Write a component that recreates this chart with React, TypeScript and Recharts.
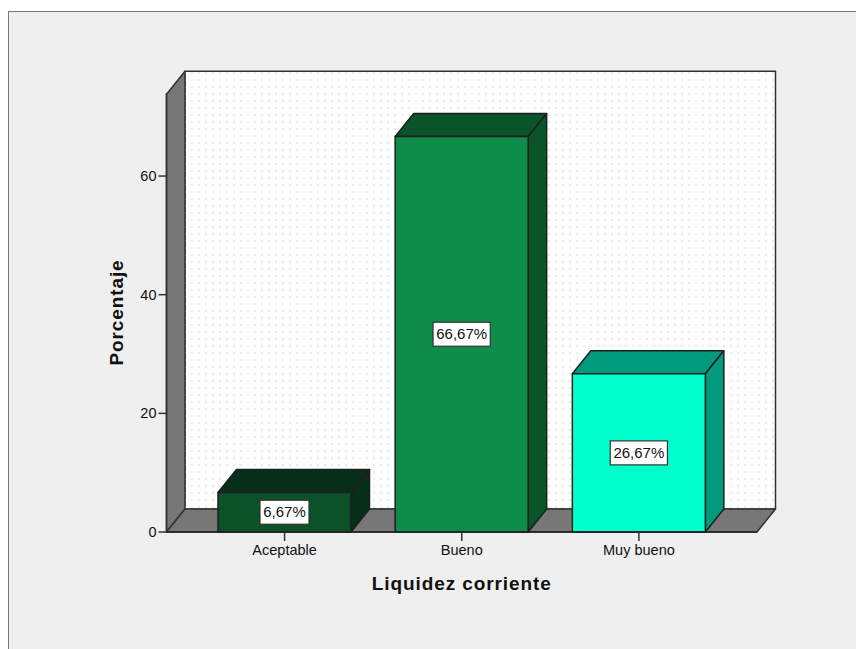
import { BarChart, Bar, XAxis, YAxis, ReferenceArea, LabelList, Label } from "recharts";

const categories = ["Aceptable", "Bueno", "Muy bueno"];
const percentages = [6.67, 66.67, 26.67];
const yTicks = [0, 20, 40, 60];
const frontColors = ["#0b5229", "#0f8c4a", "#00ffcc"];
const sideColors = ["#082f1a", "#0a5429", "#009b7c"];

const data = categories.map((name, i) => ({ name, value: percentages[i] }));

const DEPTH_X = 18.5;
const DEPTH_Y = 23;
const AXIS_PAD = 29.5;
const EDGE = "#1f1f1f";
const FONT = "Liberation Sans, Arial, sans-serif";

function formatPct(v: number) {
  return v.toFixed(2).replace(".", ",") + "%";
}

// back wall, left wall and floor of the SPSS style 3D box
// the reference area only spans the band range, so widen it by the axis padding
const Walls = ({ x: bandX, y, width: bandWidth, height }: any) => {
  const x = bandX - AXIS_PAD;
  const width = bandWidth + AXIS_PAD * 2;
  const bottom = y + height;
  const right = x + width;
  return (
    <g stroke="#333" strokeWidth={1.5} strokeLinejoin="round">
      <defs>
        <pattern id="dots" width="7" height="7" patternUnits="userSpaceOnUse">
          <rect x="2" y="2" width="2" height="2" fill="#ececec" stroke="none" />
        </pattern>
      </defs>
      <rect x={x + DEPTH_X} y={y - DEPTH_Y} width={width} height={height} fill="#fff" />
      <rect x={x + DEPTH_X} y={y - DEPTH_Y} width={width} height={height} fill="url(#dots)" stroke="none" />
      <polygon
        points={`${x},${y} ${x + DEPTH_X},${y - DEPTH_Y} ${x + DEPTH_X},${bottom - DEPTH_Y} ${x},${bottom}`}
        fill="#777"
      />
      <polygon
        points={`${x},${bottom} ${x + DEPTH_X},${bottom - DEPTH_Y} ${right + DEPTH_X},${bottom - DEPTH_Y} ${right},${bottom}`}
        fill="#777"
      />
    </g>
  );
};

const Box3D = ({ x, y, width, height, index }: any) => {
  const r = x + width;
  const b = y + height;
  return (
    <g stroke={EDGE} strokeWidth={1.5} strokeLinejoin="round">
      <polygon
        points={`${x},${y} ${x + DEPTH_X},${y - DEPTH_Y} ${r + DEPTH_X},${y - DEPTH_Y} ${r},${y}`}
        fill={sideColors[index]}
      />
      <polygon
        points={`${r},${y} ${r + DEPTH_X},${y - DEPTH_Y} ${r + DEPTH_X},${b - DEPTH_Y} ${r},${b}`}
        fill={sideColors[index]}
      />
      <rect x={x} y={y} width={width} height={height} fill={frontColors[index]} />
    </g>
  );
};

const ValueBox = ({ x, y, width, height, value }: any) => {
  const text = formatPct(value);
  const w = text.length * 8.2 + 8;
  const cx = x + width / 2;
  const cy = y + height / 2;
  return (
    <g>
      <rect x={cx - w / 2} y={cy - 12} width={w} height={24} fill="#fff" stroke="#333" strokeWidth={1.2} />
      <text x={cx} y={cy + 5} textAnchor="middle" fontSize={15} fontFamily={FONT} fill="#111">
        {text}
      </text>
    </g>
  );
};

export default function App() {
  return (
    <div style={{ position: "absolute", left: 0, top: 0, width: 856, height: 649, background: "#fff", overflow: "hidden" }}>
      <div
        style={{
          position: "absolute",
          left: 8,
          top: 11,
          width: 848,
          height: 638,
          background: "#efefef",
          borderLeft: "1.5px solid #777",
          borderTop: "1.5px solid #777",
          boxSizing: "border-box",
        }}
      />
      <div style={{ position: "absolute", left: 0, top: 0 }}>
        <BarChart
          width={856}
          height={649}
          data={data}
          margin={{ top: 93, right: 99, bottom: 57, left: 96.5 }}
          barSize={133}
        >
          <YAxis
            width={70}
            domain={[0, 73.8]}
            ticks={yTicks}
            allowDecimals={false}
            tick={{ fill: "#111", fontSize: 14.5, fontFamily: FONT }}
            tickSize={8}
            tickMargin={2}
            tickLine={{ stroke: "#333", strokeWidth: 1.5 }}
            axisLine={{ stroke: "#333", strokeWidth: 1.5 }}
          >
            <Label
              value="Porcentaje"
              angle={-90}
              position="insideLeft"
              offset={0}
              style={{ fontSize: 19, fontWeight: 700, fill: "#111", fontFamily: FONT, textAnchor: "middle", letterSpacing: 0.9 }}
              dx={20}
            />
          </YAxis>
          <XAxis
            dataKey="name"
            padding={{ left: AXIS_PAD, right: AXIS_PAD }}
            height={60}
            interval={0}
            tick={{ fill: "#111", fontSize: 14.5, fontFamily: FONT }}
            tickSize={9}
            tickMargin={4}
            tickLine={{ stroke: "#333", strokeWidth: 1.5 }}
            axisLine={{ stroke: "#222", strokeWidth: 1.5 }}
          >
            <Label
              value="Liquidez corriente"
              position="insideBottom"
              offset={2}
              style={{ fontSize: 19, fontWeight: 700, fill: "#111", fontFamily: FONT, letterSpacing: 0.9 }}
            />
          </XAxis>
          <ReferenceArea y1={0} y2={73.8} shape={Walls} ifOverflow="visible" />
          <Bar dataKey="value" isAnimationActive={false} shape={Box3D}>
            <LabelList dataKey="value" content={ValueBox} />
          </Bar>
        </BarChart>
      </div>
    </div>
  );
}
